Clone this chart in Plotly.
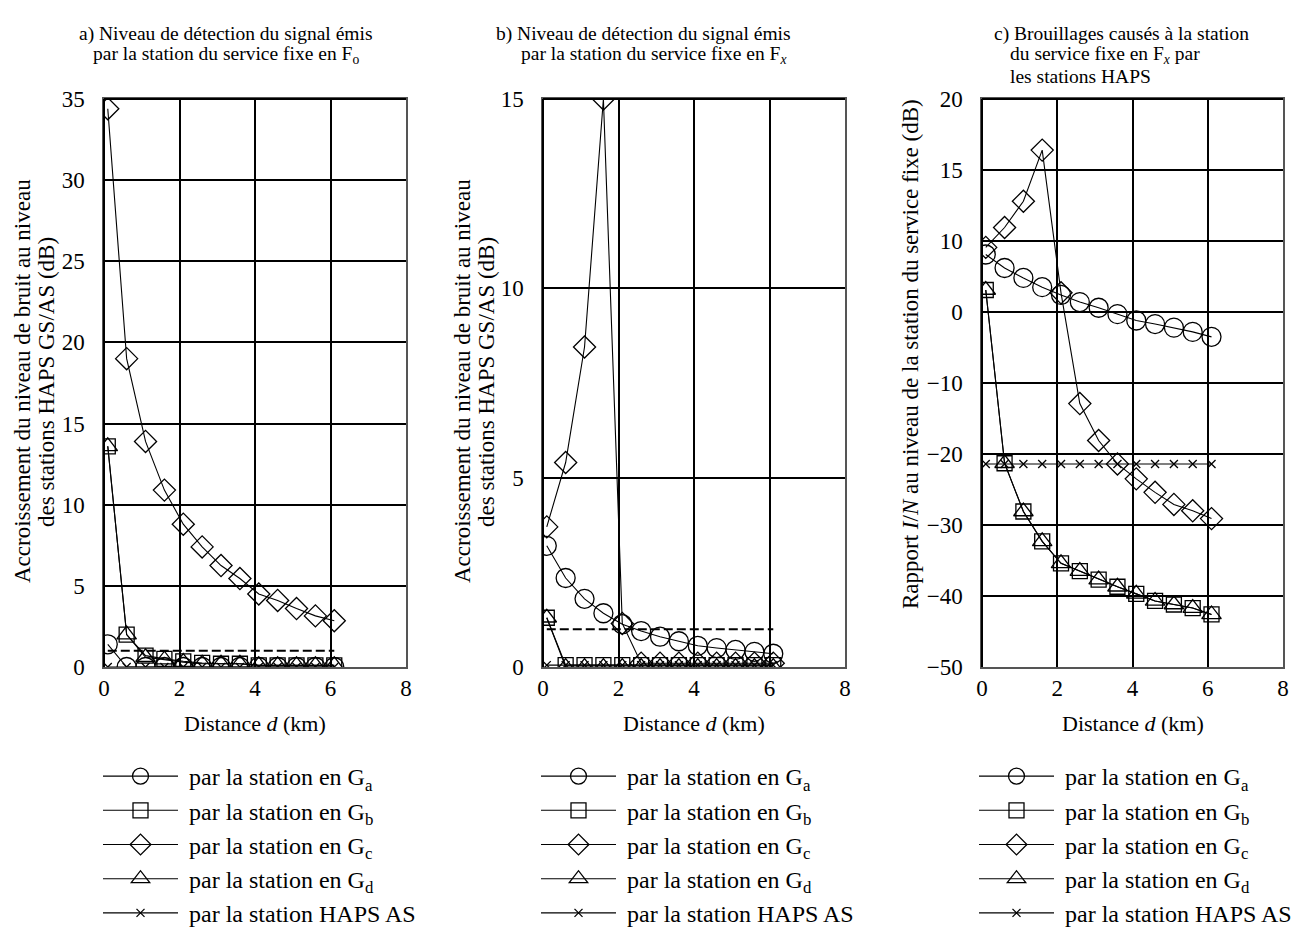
import plotly.graph_objects as go

# ---------------- data ----------------
dist_km = [0.1, 0.6, 1.1, 1.6, 2.1, 2.6, 3.1, 3.6, 4.1, 4.6, 5.1, 5.6, 6.1]
threshold_x = [0.1, 6.1]

series_names = [
    "par la station en G<sub>a</sub>",
    "par la station en G<sub>b</sub>",
    "par la station en G<sub>c</sub>",
    "par la station en G<sub>d</sub>",
    "par la station HAPS AS",
]

# Panel a) noise increase, F_o (dB)
a_Ga = [1.4, 0.0, 0.0, 0.0, 0.0, 0.0, 0.0, 0.0, 0.0, 0.0, 0.0, 0.0, 0.0]
a_Gb = [13.6, 2.0, 0.7, 0.5, 0.35, 0.25, 0.2, 0.2, 0.1, 0.1, 0.1, 0.1, 0.1]
a_Gc = [34.4, 19.0, 13.9, 10.9, 8.8, 7.4, 6.25, 5.45, 4.5, 4.1, 3.6, 3.15, 2.85]
a_Gd = [13.6, 2.0, 0.6, 0.45, 0.3, 0.2, 0.2, 0.2, 0.1, 0.1, 0.1, 0.1, 0.1]
a_HAPS = [0.0] * 13
a_threshold = [1.0, 1.0]

# Panel b) noise increase, F_x (dB)
b_Ga = [3.2, 2.35, 1.8, 1.42, 1.13, 0.95, 0.8, 0.68, 0.56, 0.5, 0.45, 0.4, 0.35]
b_Gb = [1.3, 0.05, 0.05, 0.05, 0.05, 0.05, 0.05, 0.05, 0.05, 0.05, 0.05, 0.05, 0.05]
b_Gc = [3.7, 5.4, 8.45, 15.0, 1.15, 0.1, 0.1, 0.1, 0.1, 0.1, 0.1, 0.1, 0.1]
b_Gd = [1.3, 0.0, 0.0, 0.0, 0.0, 0.0, 0.0, 0.0, 0.0, 0.0, 0.0, 0.0, 0.0]
b_HAPS = [0.05] * 13
b_threshold = [1.0, 1.0]

# Panel c) I/N ratio (axis units as drawn)
c_Ga = [8.1, 6.2, 4.8, 3.5, 2.4, 1.4, 0.6, -0.3, -1.2, -1.7, -2.2, -2.8, -3.5]
c_Gb = [3.1, -21.3, -28.1, -32.3, -35.4, -36.5, -37.7, -38.7, -39.7, -40.7, -41.2, -41.7, -42.6]
c_Gc = [9.1, 11.9, 15.6, 22.8, 2.7, -12.9, -18.1, -21.4, -23.5, -25.4, -27.1, -28.0, -29.1]
c_Gd = [3.1, -21.3, -28.1, -32.3, -35.4, -36.5, -37.7, -38.7, -39.7, -40.7, -41.2, -41.7, -42.6]
c_HAPS = [-21.4] * 13
c_threshold = [-10.0, -10.0]

x_ticks = [0, 2, 4, 6, 8]
a_yticks = [0, 5, 10, 15, 20, 25, 30, 35]
b_yticks = [0, 5, 10, 15]
c_yticks = [30, 20, 10, 0, -10, -20, -30, -40, -50]
c_yticktext = ["20", "15", "10", "0", "\u221210", "\u221220", "\u221230", "\u221240", "\u221250"]

titles = [
    ["a) Niveau de détection du signal émis", "par la station du service fixe en F<sub>o</sub>"],
    ["b) Niveau de détection du signal émis", "par la station du service fixe en F<sub><i>x</i></sub>"],
    ["c) Brouillages causés à la station", "du service fixe en F<sub><i>x</i></sub> par", "les stations HAPS"],
]

# ---------------- style ----------------
FONT = "Liberation Serif, Times New Roman, serif"
W, H = 1300, 929
symbols = ["circle-open", "square-open", "diamond-open", "triangle-up-open", "x-thin-open"]
sizes = [19, 15, 17, 17, 8]

fig = go.Figure()

panels = [
    (a_Ga, a_Gb, a_Gc, a_Gd, a_HAPS, a_threshold),
    (b_Ga, b_Gb, b_Gc, b_Gd, b_HAPS, b_threshold),
    (c_Ga, c_Gb, c_Gc, c_Gd, c_HAPS, c_threshold),
]
legend_ids = ["legend", "legend2", "legend3"]
NB = "\u00a0"

for p, data in enumerate(panels):
    xa = "x" if p == 0 else f"x{p+1}"
    ya = "y" if p == 0 else f"y{p+1}"
    fig.add_trace(go.Scatter(
        x=threshold_x, y=data[5], mode="lines", xaxis=xa, yaxis=ya,
        line=dict(color="black", width=2, dash="9px,4px"), showlegend=False,
        hoverinfo="skip"))
    for s in range(5):
        fig.add_trace(go.Scatter(
            x=dist_km, y=data[s], mode="lines+markers", name=NB + series_names[s],
            xaxis=xa, yaxis=ya, legend=legend_ids[p], legendgroup=f"p{p}s{s}",
            line=dict(color="black", width=1.1),
            marker=dict(symbol=symbols[s], size=sizes[s], color="black",
                        line=dict(color="black", width=1.3)),
        ))

x_domains = [[104 / W, 406 / W], [543 / W, 845 / W], [982 / W, 1283 / W]]
y_domain = [1 - 667 / H, 1 - 99 / H]
y_ranges = [[0, 35], [0, 15], [-50, 30]]
y_tickvals = [a_yticks, b_yticks, c_yticks]
y_ticktexts = [[str(v) for v in a_yticks], [str(v) for v in b_yticks], c_yticktext]

axis_common = dict(
    showgrid=True, gridcolor="black", gridwidth=2,
    showline=True, linecolor="#555", linewidth=1.5, mirror=True,
    zeroline=False, ticks="", tickfont=dict(family=FONT, size=23, color="black"),
)

shapes = []
annotations = []
for p in range(3):
    sfx = "" if p == 0 else str(p + 1)
    fig.layout[f"xaxis{sfx}"] = dict(
        axis_common, domain=x_domains[p], range=[0, 8], tickvals=x_ticks,
        anchor=f"y{sfx}", fixedrange=True, ticklabelstandoff=0)
    fig.layout[f"yaxis{sfx}"] = dict(
        axis_common, domain=y_domain, range=y_ranges[p], tickvals=y_tickvals[p],
        ticktext=y_ticktexts[p], anchor=f"x{sfx}", fixedrange=True,
        ticklabelstandoff=13)
    shapes.append(dict(type="line", xref=f"x{sfx} domain", yref=f"y{sfx} domain",
                       x0=0, x1=0, y0=0, y1=1, line=dict(color="black", width=2)))
    shapes.append(dict(type="line", xref=f"x{sfx} domain", yref=f"y{sfx} domain",
                       x0=0, x1=1, y0=1, y1=1, line=dict(color="black", width=2)))
    xc = (x_domains[p][0] + x_domains[p][1]) / 2
    annotations.append(dict(text="Distance <i>d</i> (km)", x=xc, y=1 - 723 / H,
                            xref="paper", yref="paper", xanchor="center", yanchor="middle",
                            showarrow=False,
                            font=dict(family=FONT, size=22, color="black")))

# y-axis titles (text, x centre px, y centre px)
ytitle_specs = [
    ("Accroissement du niveau de bruit au niveau", 22, 381),
    ("des stations HAPS GS/AS (dB)", 46, 382),
    ("Accroissement du niveau de bruit au niveau", 462, 381),
    ("des stations HAPS GS/AS (dB)", 486, 382),
    ("Rapport <i>I</i>/<i>N</i> au niveau de la station du service fixe (dB)", 910, 354),
]
for txt, px, py in ytitle_specs:
    annotations.append(dict(text=txt, x=px / W, y=1 - py / H, xref="paper", yref="paper",
                            xanchor="center", yanchor="middle",
                            textangle=-90, showarrow=False,
                            font=dict(family=FONT, size=23, color="black")))

# panel titles: (anchor x px, xanchor) per line
title_pos = [
    [(226, "center"), (226, "center")],
    [(643, "center"), (653, "center")],
    [(992, "left"), (1008, "left"), (1008, "left")],
]
for p, lines in enumerate(titles):
    for i, line in enumerate(lines):
        px, anc = title_pos[p][i]
        annotations.append(dict(text=line, x=px / W, y=1 - (34 + 21 * i) / H,
                                xref="paper", yref="paper", xanchor=anc, yanchor="middle",
                                showarrow=False,
                                font=dict(family=FONT, size=19.5, color="black")))

legend_common = dict(
    xanchor="left", yanchor="top", font=dict(family=FONT, size=24, color="black"),
    bgcolor="rgba(0,0,0,0)", itemwidth=75, traceorder="grouped", tracegroupgap=0,
    itemclick=False, itemdoubleclick=False,
)
legend_x = [98, 536, 974]
fig.update_layout(
    width=W, height=H, margin=dict(l=0, r=0, t=0, b=0, autoexpand=False),
    paper_bgcolor="white", plot_bgcolor="white",
    shapes=shapes, annotations=annotations,
    legend=dict(legend_common, x=legend_x[0] / W, y=1 - 754 / H),
    legend2=dict(legend_common, x=legend_x[1] / W, y=1 - 754 / H),
    legend3=dict(legend_common, x=legend_x[2] / W, y=1 - 754 / H),
    font=dict(family=FONT, size=22, color="black"),
    hovermode=False,
)

fig.write_html("out.html", config={"displayModeBar": False},
               post_script="document.body.style.margin='0';")
